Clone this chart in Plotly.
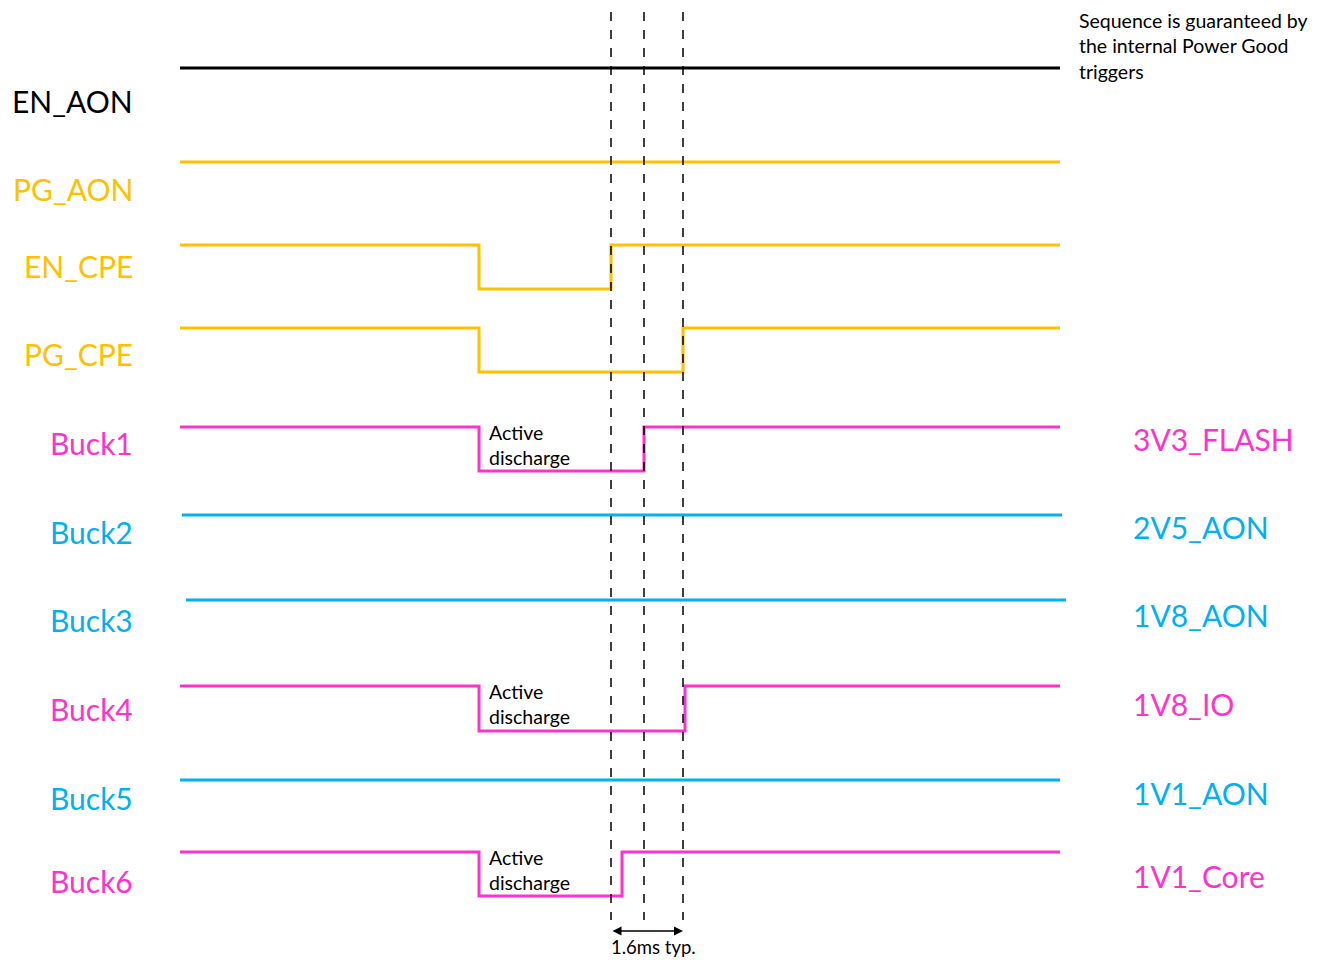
import plotly.graph_objects as go

# ---- data ----
signals = ["EN_AON", "PG_AON", "EN_CPE", "PG_CPE", "Buck1", "Buck2", "Buck3", "Buck4", "Buck5", "Buck6"]
rails = ["", "", "", "", "3V3_FLASH", "2V5_AON", "1V8_AON", "1V8_IO", "1V1_AON", "1V1_Core"]
colors = ["#000000", "#FFC000", "#FFC000", "#FFC000", "#FF33CC", "#00B0F0", "#00B0F0", "#FF33CC", "#00B0F0", "#FF33CC"]
high_y = [68, 162, 245, 328, 427, 515, 600, 686, 780, 852]
low_y = [None, None, 289, 372, 471, None, None, 731, None, 896]
t_start = [180, 180, 180, 180, 180, 182, 186, 180, 180, 180]
t_end = [1060, 1060, 1060, 1060, 1060, 1062, 1066, 1060, 1060, 1060]
t_fall = [None, None, 479, 479, 479, None, None, 479, None, 479]
t_rise = [None, None, 611, 683, 644, None, None, 685, None, 622]
label_y = [101, 189, 266, 354, 443, 532, 620, 709, 798, 881]
rail_y = [101, 189, 266, 354, 439, 527, 615, 704, 793, 876]
discharge_rows = [4, 7, 9]
marker_times = [611, 644, 683]
note = "Sequence is guaranteed by<br>the internal Power Good<br>triggers"
arrow_label = "1.6ms typ."

fig = go.Figure()

for i, name in enumerate(signals):
    if t_fall[i] is None:
        xs = [t_start[i], t_end[i]]
        ys = [high_y[i], high_y[i]]
    else:
        xs = [t_start[i], t_fall[i], t_fall[i], t_rise[i], t_rise[i], t_end[i]]
        ys = [high_y[i], high_y[i], low_y[i], low_y[i], high_y[i], high_y[i]]
    fig.add_trace(go.Scatter(x=xs, y=ys, mode="lines", line=dict(color=colors[i], width=3),
                             showlegend=False, hoverinfo="skip"))
    fig.add_annotation(x=135, y=label_y[i], text=name, showarrow=False, xanchor="right",
                       yanchor="middle", font=dict(size=30, color=colors[i], family="Lato"))
    if rails[i]:
        fig.add_annotation(x=1131, y=rail_y[i], text=rails[i], showarrow=False, xanchor="left",
                           yanchor="middle", font=dict(size=30, color=colors[i], family="Lato"))

for i in discharge_rows:
    fig.add_annotation(x=t_fall[i] + 8, y=high_y[i] + 18, text="Active<br>discharge", showarrow=False,
                       xanchor="left", yanchor="middle", align="left",
                       font=dict(size=19.5, color="#000000", family="Lato"))

for t in marker_times:
    fig.add_trace(go.Scatter(x=[t, t], y=[12, 920], mode="lines",
                             line=dict(color="#000000", width=1.5, dash="dash"),
                             showlegend=False, hoverinfo="skip"))

# double-headed arrow
fig.add_annotation(x=marker_times[2], y=931, ax=marker_times[0], ay=931, xref="x", yref="y",
                   axref="x", ayref="y", showarrow=True, arrowhead=2, arrowside="end+start",
                   arrowwidth=1.5, arrowsize=1.2, text="", arrowcolor="#000000")
fig.add_annotation(x=(marker_times[0] + marker_times[2]) / 2 + 6, y=947, text=arrow_label,
                   showarrow=False, yanchor="middle", font=dict(size=18.5, color="#000000", family="Lato"))

fig.add_annotation(x=1078, y=8, yshift=0, borderpad=0, text=note, showarrow=False, xanchor="left",
                   yanchor="top", align="left", font=dict(size=19.5, color="#000000", family="Lato"))

# page body has an 8px margin: size the figure so data units equal page pixels
fig.update_layout(
    width=1307, height=950,
    margin=dict(l=0, r=0, t=0, b=0),
    plot_bgcolor="white", paper_bgcolor="white",
    xaxis=dict(range=[8, 1315], visible=False, fixedrange=True),
    yaxis=dict(range=[958, 8], visible=False, fixedrange=True),
)

fig.write_html("out.html")
